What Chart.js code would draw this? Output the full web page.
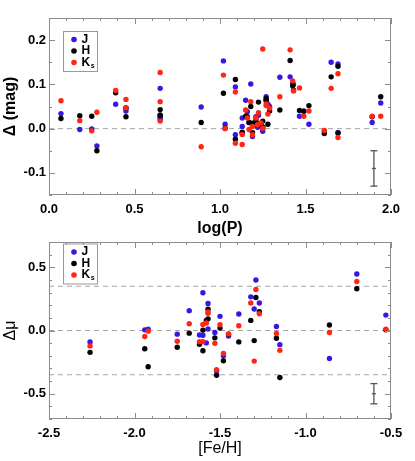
<!DOCTYPE html>
<html>
<head>
<meta charset="utf-8">
<script src="https://cdn.jsdelivr.net/npm/chart.js@4.4.1/dist/chart.umd.min.js"></script>
<style>
  html, body { margin: 0; padding: 0; background: #fff; }
  #wrap { position: relative; width: 415px; height: 461px; overflow: hidden; }
  canvas { position: absolute; left: 0; }
  #top-chart { top: 0; }
  #bottom-chart { top: 230px; }
</style>
</head>
<body>
<div id="wrap">
  <canvas id="top-chart" width="415" height="240"></canvas>
  <canvas id="bottom-chart" width="415" height="231"></canvas>
</div>
<script>
// upper panel: residuals vs log period, one entry per star
const logP = [0.07, 0.18, 0.25, 0.28, 0.39, 0.45, 0.45, 0.65, 0.65, 0.65,
  0.89, 1.02, 1.03, 1.09, 1.09, 1.13, 1.13, 1.15, 1.16, 1.17,
  1.18, 1.19, 1.19, 1.21, 1.22, 1.225, 1.24, 1.25, 1.25, 1.27,
  1.27, 1.28, 1.29, 1.35, 1.41, 1.425, 1.43, 1.465, 1.49, 1.52,
  1.61, 1.65, 1.69, 1.69, 1.89, 1.94];
const deltaJ = [0.034, -0.002, -0.001, -0.039, 0.055, 0.040, 0.046, 0.091, 0.025, 0.021,
  0.049, 0.153, 0.010, 0.094, -0.014, 0.024, 0.005, 0.064, 0.038, 0.014,
  0.101, -0.018, 0.011, 0.027, 0.003, 0.030, 0.012, -0.006, 0.002, 0.072,
  0.063, 0.055, 0.050, 0.116, 0.117, 0.103, 0.100, 0.028, 0.040, 0.010,
  -0.005, 0.150, 0.146, -0.009, 0.014, 0.058];
const deltaH = [0.023, 0.029, 0.028, -0.050, 0.081, 0.027, 0.047, 0.043, 0.031, 0.029,
  0.014, 0.080, 0.001, 0.111, -0.024, -0.008, -0.010, 0.028, 0.027, 0.014,
  0.050, -0.009, 0.012, 0.020, 0.011, 0.060, 0.007, 0.017, 0.004, 0.068,
  0.064, 0.010, 0.040, 0.042, 0.154, 0.097, 0.087, 0.041, 0.039, 0.052,
  -0.011, 0.117, 0.141, -0.010, 0.027, 0.072];
const deltaK = [0.063, 0.018, -0.005, 0.037, 0.086, 0.066, 0.047, 0.127, 0.061, 0.017,
  -0.041, 0.121, 0.000, 0.083, -0.033, -0.036, -0.013, 0.042, 0.024, -0.002,
  0.061, -0.014, 0.005, 0.024, 0.009, 0.036, 0.013, 0.001, 0.180, 0.056,
  0.052, 0.033, 0.046, 0.072, 0.178, 0.108, 0.085, 0.092, 0.028, 0.040,
  -0.004, 0.091, 0.124, -0.020, 0.028, 0.028];
const topXTicks = [0, 0.5, 1, 1.5, 2];
const topYTicks = [-0.1, 0, 0.1, 0.2];
const topRefY = [0];
const topErrX = [1.9], topErrY = [-0.09], topErrSize = [0.04];

// lower panel: distance modulus residuals vs metallicity
const feh = [-2.26, -1.94, -1.92, -1.75, -1.68, -1.62, -1.60, -1.60, -1.58, -1.57,
  -1.57, -1.53, -1.52, -1.50, -1.48, -1.45, -1.39, -1.32, -1.30, -1.29,
  -1.27, -1.17, -1.15, -0.86, -0.70, -0.53];
const muJ = [-0.090, 0.005, 0.011, -0.029, 0.157, -0.035, 0.298, -0.037, -0.098, 0.213,
  0.012, -0.016, -0.320, 0.112, -0.199, -0.043, 0.130, 0.266, 0.170, 0.399,
  0.218, 0.032, -0.112, -0.221, 0.447, 0.122];
const muH = [-0.173, -0.144, -0.287, -0.133, -0.021, -0.109, 0.003, -0.160, 0.080, 0.168,
  0.092, -0.058, -0.354, 0.019, -0.239, -0.030, -0.090, 0.080, -0.080, 0.261,
  0.149, -0.061, -0.372, 0.043, 0.330, 0.005];
const muK = [-0.122, -0.048, -0.005, -0.085, 0.053, -0.088, 0.048, -0.088, 0.059, 0.146,
  0.136, -0.101, -0.310, 0.045, -0.181, -0.027, 0.037, 0.218, -0.242, 0.324,
  0.133, -0.024, -0.157, -0.016, 0.388, 0.011];
const botXTicks = [-2.5, -2, -1.5, -1, -0.5];
const botYTicks = [-0.5, 0, 0.5];
const botRefY = [-0.35, 0, 0.35];
const botErrX = [-0.6], botErrY = [-0.5], botErrSize = [0.08];

const FONT = '"Liberation Sans", Arial, Helvetica, sans-serif';
const BLUE = '#3a16e2';
const RED = '#ff2615';
const FRAME = '#8c8c8c';

// IDL-style frame with inward major/minor ticks on all four sides
const idlAxes = {
  id: 'idlAxes',
  afterDatasetsDraw(chart, args, opts) {
    const { ctx, chartArea: a, scales } = chart;
    ctx.save();
    ctx.strokeStyle = FRAME;
    ctx.lineWidth = 1;
    ctx.strokeRect(a.left + 0.5, a.top + 0.5, a.width - 1, a.height - 1);

    const tickSet = (scale, step) => {
      const out = [];
      const n = Math.round((scale.max - scale.min) / step);
      for (let i = 0; i <= n; i++) out.push({ v: scale.min + i * step, len: 3 });
      scale.ticks.forEach((t) => out.push({ v: t.value, len: 6 }));
      return out;
    };

    ctx.beginPath();
    tickSet(scales.x, opts.xMinor).forEach(({ v, len }) => {
      const px = Math.round(scales.x.getPixelForValue(v)) + 0.5;
      ctx.moveTo(px, a.bottom); ctx.lineTo(px, a.bottom - len);
      ctx.moveTo(px, a.top); ctx.lineTo(px, a.top + len);
    });
    tickSet(scales.y, opts.yMinor).forEach(({ v, len }) => {
      const py = Math.round(scales.y.getPixelForValue(v)) + 0.5;
      ctx.moveTo(a.left, py); ctx.lineTo(a.left + len, py);
      ctx.moveTo(a.right, py); ctx.lineTo(a.right - len, py);
    });
    ctx.stroke();
    ctx.restore();
  },
};

// boxed legend in the upper left corner, drawn from the band datasets
const bandLegend = {
  id: 'bandLegend',
  afterDraw(chart, args, opts) {
    const { ctx, chartArea: a } = chart;
    const x0 = a.left + opts.dx, y0 = a.top + opts.dy;
    ctx.save();
    ctx.strokeStyle = '#999';
    ctx.lineWidth = 1;
    ctx.strokeRect(x0 + 0.5, y0 + 0.5, 34, 40);
    const bands = chart.data.datasets.filter((d) => d.band);
    bands.sort((p, q) => p.band - q.band).forEach((d, i) => {
      const cy = y0 + 8.5 + i * 11.5;
      ctx.fillStyle = d.backgroundColor;
      ctx.beginPath();
      ctx.arc(x0 + 11, cy, 2.8, 0, Math.PI * 2);
      ctx.fill();
      ctx.fillStyle = '#000';
      ctx.textBaseline = 'middle';
      ctx.font = 'bold 12px ' + FONT;
      ctx.fillText(d.label, x0 + 18.5, cy);
      if (d.sub) {
        const w = ctx.measureText(d.label).width;
        ctx.font = 'bold 7px ' + FONT;
        ctx.fillText(d.sub, x0 + 18.5 + w + 0.5, cy + 3.5);
      }
    });
    ctx.restore();
  },
};

function bandSets(xs, j, h, k) {
  const pts = (ys) => xs.map((x, i) => ({ x, y: ys[i] }));
  const base = { type: 'scatter', pointRadius: 2.7, pointHoverRadius: 2.7, borderWidth: 0 };
  return [
    { ...base, label: 'J', band: 1, data: pts(j), backgroundColor: BLUE, order: 3 },
    { ...base, label: 'H', band: 2, data: pts(h), backgroundColor: '#000', order: 2 },
    { ...base, label: 'K', sub: 's', band: 3, data: pts(k), backgroundColor: RED, order: 1 },
  ];
}

function refSets(refY, xmin, xmax) {
  return refY.map((y) => ({
    type: 'line', data: [{ x: xmin, y }, { x: xmax, y }],
    borderColor: '#a6a6a6', borderWidth: 1, borderDash: [5, 4],
    pointRadius: 0, order: 10,
  }));
}

function errSets(ex, ey, es) {
  return ex.map((x, i) => ({
    type: 'line',
    data: [{ x, y: ey[i] - es[i] }, { x, y: ey[i] }, { x, y: ey[i] + es[i] }],
    borderColor: '#555', borderWidth: 1.3,
    pointStyle: 'line', pointRadius: [3.5, 2, 3.5], pointBorderColor: '#555',
    pointBorderWidth: 1.3, order: 9,
  }));
}

function makeChart(el, cfg) {
  return new Chart(el, {
    type: 'scatter',
    data: { datasets: cfg.datasets },
    plugins: [idlAxes, bandLegend],
    options: {
      responsive: false,
      animation: false,
      devicePixelRatio: 1,
      events: [],
      layout: { padding: { top: cfg.padTop, right: 24, left: 0, bottom: 0 } },
      plugins: {
        legend: { display: false },
        tooltip: { enabled: false },
        idlAxes: { xMinor: 0.1, yMinor: cfg.yMinor },
        bandLegend: { dx: 14, dy: cfg.legendDy },
      },
      scales: {
        x: {
          type: 'linear', min: cfg.xMin, max: cfg.xMax,
          grid: { display: false, drawTicks: false },
          border: { display: false },
          afterBuildTicks: (s) => { s.ticks = cfg.xTicks.map((v) => ({ value: v })); },
          afterFit: (s) => { s.height = cfg.xHeight; },
          ticks: {
            color: '#000', padding: 7, maxRotation: 0,
            font: { family: FONT, size: 13, weight: 'bold' },
            callback: (v) => Number(v).toFixed(1),
          },
          title: {
            display: true, text: cfg.xTitle, color: '#000',
            font: { family: FONT, size: 16, weight: cfg.xTitleWeight, lineHeight: 1 },
            padding: { top: 0, bottom: cfg.xTitlePad },
          },
        },
        y: {
          type: 'linear', min: cfg.yMin, max: cfg.yMax,
          grid: { display: false, drawTicks: false },
          border: { display: false },
          afterBuildTicks: (s) => { s.ticks = cfg.yTicks.map((v) => ({ value: v })); },
          afterFit: (s) => { s.width = 49; },
          ticks: {
            color: '#000', padding: 3,
            font: { family: FONT, size: 13, weight: 'bold' },
            callback: (v) => Number(v).toFixed(1),
          },
          title: {
            display: true, text: cfg.yTitle, color: '#000',
            font: { family: FONT, size: 16, weight: cfg.yTitleWeight, lineHeight: 1 },
            padding: { top: 3, bottom: 0 },
          },
        },
      },
    },
  });
}

makeChart(document.getElementById('top-chart'), {
  datasets: [
    ...bandSets(logP, deltaJ, deltaH, deltaK),
    ...refSets(topRefY, 0, 2),
    ...errSets(topErrX, topErrY, topErrSize),
  ],
  padTop: 18, xHeight: 45, xTitlePad: 3, legendDy: 13,
  xMin: 0, xMax: 2, yMin: -0.15, yMax: 0.25, yMinor: 0.05,
  xTicks: topXTicks, yTicks: topYTicks,
  xTitle: 'log(P)', xTitleWeight: 'bold',
  yTitle: 'Δ (mag)', yTitleWeight: 'bold',
});

makeChart(document.getElementById('bottom-chart'), {
  datasets: [
    ...bandSets(feh, muJ, muH, muK),
    ...refSets(botRefY, -2.5, -0.5),
    ...errSets(botErrX, botErrY, botErrSize),
  ],
  padTop: 12, xHeight: 42, xTitlePad: 4, legendDy: 1.5,
  xMin: -2.5, xMax: -0.5, yMin: -0.7, yMax: 0.7, yMinor: 0.1,
  xTicks: botXTicks, yTicks: botYTicks,
  xTitle: '[Fe/H]', xTitleWeight: 'normal',
  yTitle: 'Δμ', yTitleWeight: 'normal',
});
</script>
</body>
</html>
